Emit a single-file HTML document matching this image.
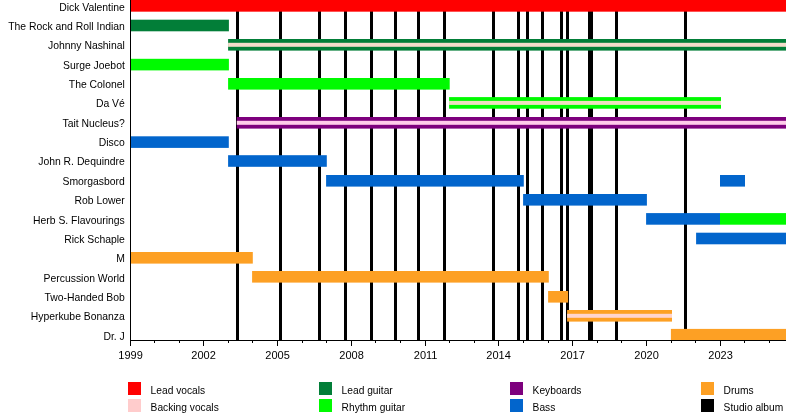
<!DOCTYPE html><html><head><meta charset="utf-8"><style>html,body{margin:0;padding:0;background:#fff;width:800px;height:420px;overflow:hidden}svg{display:block}text{font-family:"Liberation Sans",sans-serif}svg{will-change:transform}</style></head><body>
<svg width="800" height="420" viewBox="0 0 800 420">
<rect width="800" height="420" fill="#fff"/>
<rect x="236" y="0" width="3" height="340" fill="#000"/>
<rect x="279" y="0" width="3" height="340" fill="#000"/>
<rect x="318" y="0" width="3" height="340" fill="#000"/>
<rect x="344" y="0" width="3" height="340" fill="#000"/>
<rect x="370" y="0" width="3" height="340" fill="#000"/>
<rect x="394" y="0" width="3" height="340" fill="#000"/>
<rect x="417" y="0" width="3" height="340" fill="#000"/>
<rect x="443" y="0" width="3" height="340" fill="#000"/>
<rect x="492" y="0" width="3" height="340" fill="#000"/>
<rect x="517" y="0" width="3" height="340" fill="#000"/>
<rect x="526" y="0" width="3" height="340" fill="#000"/>
<rect x="541" y="0" width="3" height="340" fill="#000"/>
<rect x="560" y="0" width="3" height="340" fill="#000"/>
<rect x="566" y="0" width="3" height="340" fill="#000"/>
<rect x="588" y="0" width="5" height="340" fill="#000"/>
<rect x="615" y="0" width="3" height="340" fill="#000"/>
<rect x="684" y="0" width="3" height="340" fill="#000"/>
<rect x="131" y="0.00" width="655.00" height="11.67" fill="#FF0000"/>
<rect x="131" y="19.70" width="97.90" height="11.60" fill="#027E38"/>
<rect x="228.1" y="39.00" width="557.90" height="11.60" fill="#027E38"/>
<rect x="228.1" y="42.80" width="557.90" height="4.0" fill="#F5DCCB"/>
<rect x="131" y="58.80" width="97.90" height="11.60" fill="#00FA00"/>
<rect x="228.1" y="78.00" width="221.60" height="11.60" fill="#00FA00"/>
<rect x="449.1" y="97.10" width="271.90" height="11.60" fill="#00FA00"/>
<rect x="449.1" y="100.90" width="271.90" height="4.0" fill="#EEDFC0"/>
<rect x="236.8" y="117.00" width="549.20" height="11.60" fill="#7D007D"/>
<rect x="236.8" y="120.80" width="549.20" height="4.0" fill="#FFCCEA"/>
<rect x="131" y="136.30" width="97.80" height="11.60" fill="#0265CC"/>
<rect x="228.1" y="155.20" width="98.70" height="11.60" fill="#0265CC"/>
<rect x="326.1" y="175.00" width="197.70" height="11.60" fill="#0265CC"/>
<rect x="720" y="175.00" width="25.00" height="11.60" fill="#0265CC"/>
<rect x="523.1" y="194.00" width="123.80" height="11.60" fill="#0265CC"/>
<rect x="646.1" y="213.10" width="73.90" height="11.60" fill="#0265CC"/>
<rect x="720" y="213.10" width="66.00" height="11.60" fill="#00FA00"/>
<rect x="696.1" y="232.70" width="89.90" height="11.60" fill="#0265CC"/>
<rect x="131" y="252.00" width="121.80" height="11.60" fill="#FDA024"/>
<rect x="252.1" y="271.00" width="296.70" height="11.60" fill="#FDA024"/>
<rect x="548.1" y="291.00" width="20.00" height="11.60" fill="#FDA024"/>
<rect x="567.1" y="310.00" width="104.90" height="11.60" fill="#FDA024"/>
<rect x="567.1" y="313.80" width="104.90" height="4.0" fill="#FFD4CE"/>
<rect x="670.9" y="328.90" width="115.10" height="11.10" fill="#FDA024"/>
<rect x="130" y="0" width="1" height="346" fill="#000"/>
<rect x="130" y="340" width="656" height="1" fill="#000"/>
<rect x="154" y="341" width="1" height="2" fill="#000"/>
<rect x="179" y="341" width="1" height="2" fill="#000"/>
<rect x="203" y="341" width="1" height="5" fill="#000"/>
<rect x="228" y="341" width="1" height="2" fill="#000"/>
<rect x="252" y="341" width="1" height="2" fill="#000"/>
<rect x="277" y="341" width="1" height="5" fill="#000"/>
<rect x="302" y="341" width="1" height="2" fill="#000"/>
<rect x="326" y="341" width="1" height="2" fill="#000"/>
<rect x="351" y="341" width="1" height="5" fill="#000"/>
<rect x="375" y="341" width="1" height="2" fill="#000"/>
<rect x="400" y="341" width="1" height="2" fill="#000"/>
<rect x="425" y="341" width="1" height="5" fill="#000"/>
<rect x="449" y="341" width="1" height="2" fill="#000"/>
<rect x="474" y="341" width="1" height="2" fill="#000"/>
<rect x="498" y="341" width="1" height="5" fill="#000"/>
<rect x="523" y="341" width="1" height="2" fill="#000"/>
<rect x="548" y="341" width="1" height="2" fill="#000"/>
<rect x="572" y="341" width="1" height="5" fill="#000"/>
<rect x="597" y="341" width="1" height="2" fill="#000"/>
<rect x="621" y="341" width="1" height="2" fill="#000"/>
<rect x="646" y="341" width="1" height="5" fill="#000"/>
<rect x="671" y="341" width="1" height="2" fill="#000"/>
<rect x="695" y="341" width="1" height="2" fill="#000"/>
<rect x="720" y="341" width="1" height="5" fill="#000"/>
<rect x="744" y="341" width="1" height="2" fill="#000"/>
<rect x="769" y="341" width="1" height="2" fill="#000"/>
<g font-size="11" text-anchor="middle" fill="#000">
<text x="130.60" y="358.8">1999</text>
<text x="203.60" y="358.8">2002</text>
<text x="277.60" y="358.8">2005</text>
<text x="351.60" y="358.8">2008</text>
<text x="425.60" y="358.8">2011</text>
<text x="498.60" y="358.8">2014</text>
<text x="572.60" y="358.8">2017</text>
<text x="646.60" y="358.8">2020</text>
<text x="720.60" y="358.8">2023</text>
</g>
<g font-size="11" text-anchor="end" fill="#000" transform="scale(0.945,1)">
<text x="132.06" y="11">Dick Valentine</text>
<text x="132.06" y="30">The Rock and Roll Indian</text>
<text x="132.06" y="49">Johnny Nashinal</text>
<text x="132.06" y="69">Surge Joebot</text>
<text x="132.06" y="88">The Colonel</text>
<text x="132.06" y="107">Da Vé</text>
<text x="132.06" y="127">Tait Nucleus?</text>
<text x="132.06" y="146">Disco</text>
<text x="132.06" y="165">John R. Dequindre</text>
<text x="132.06" y="185">Smorgasbord</text>
<text x="132.06" y="204">Rob Lower</text>
<text x="132.06" y="224">Herb S. Flavourings</text>
<text x="132.06" y="243">Rick Schaple</text>
<text x="132.06" y="262">M</text>
<text x="132.06" y="282">Percussion World</text>
<text x="132.06" y="301">Two-Handed Bob</text>
<text x="132.06" y="320">Hyperkube Bonanza</text>
<text x="132.06" y="340">Dr. J</text>
</g>
<rect x="128" y="382" width="13" height="13" fill="#FF0000"/>
<rect x="128" y="399" width="13" height="13" fill="#FFCCCC"/>
<rect x="319" y="382" width="13" height="13" fill="#027E38"/>
<rect x="319" y="399" width="13" height="13" fill="#00FA00"/>
<rect x="510" y="382" width="13" height="13" fill="#7D007D"/>
<rect x="510" y="399" width="13" height="13" fill="#0265CC"/>
<rect x="701" y="382" width="13" height="13" fill="#FDA024"/>
<rect x="701" y="399" width="13" height="13" fill="#000000"/>
<g font-size="11" fill="#000" transform="scale(0.93,1)">
<text x="161.94" y="394.2">Lead vocals</text>
<text x="161.94" y="411.2">Backing vocals</text>
<text x="367.31" y="394.2">Lead guitar</text>
<text x="367.31" y="411.2">Rhythm guitar</text>
<text x="572.69" y="394.2">Keyboards</text>
<text x="572.69" y="411.2">Bass</text>
<text x="778.06" y="394.2">Drums</text>
<text x="778.06" y="411.2">Studio album</text>
</g>
</svg></body></html>
